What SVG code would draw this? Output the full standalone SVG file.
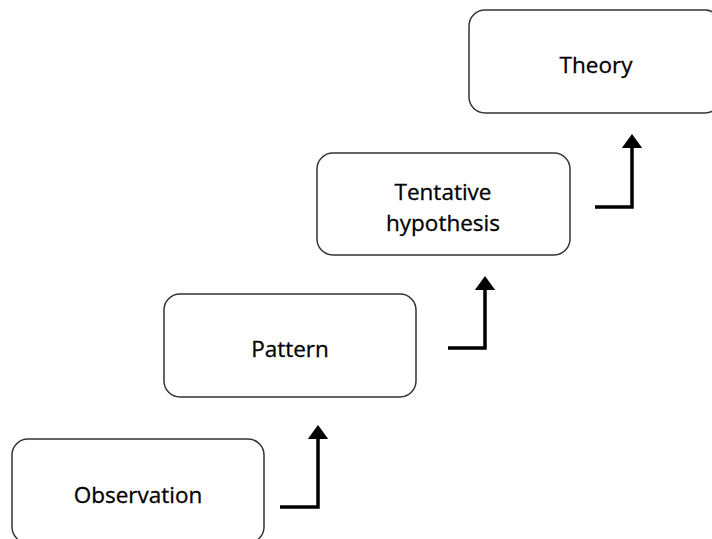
<svg xmlns="http://www.w3.org/2000/svg" width="712" height="539" viewBox="0 0 712 539">
<style>
.box{fill:#fff;stroke:#333;stroke-width:1.5}
.lbl{font-family:"Open Sans","Noto Sans",sans-serif;font-size:22.5px;fill:#000;stroke:#000;stroke-width:0.3;text-anchor:middle}
.con{fill:none;stroke:#000;stroke-width:3.5}
</style>
<defs>
<marker id="ah" markerWidth="4" markerHeight="5.8" refX="0.3" refY="2.9" orient="auto" markerUnits="strokeWidth">
<path d="M0,0 L4,2.9 L0,5.8 Z" fill="#000"/>
</marker>
</defs>
<rect width="712" height="539" fill="#fff"/>
<g id="observation"><rect class="box" x="12" y="439" width="252" height="104" rx="16"/><text class="lbl" x="138" y="503">Observation</text></g>
<g id="pattern"><rect class="box" x="164" y="294" width="252" height="103" rx="16"/><text class="lbl" x="290" y="357">Pattern</text></g>
<g id="tentative"><rect class="box" x="317" y="153" width="253" height="102" rx="16"/><text class="lbl" x="443" y="200">Tentative</text><text class="lbl" x="443" y="231">hypothesis</text></g>
<g id="theory"><rect class="box" x="469" y="10" width="252" height="103" rx="16"/><text class="lbl" x="596" y="73">Theory</text></g>
<g id="connectors">
<path class="con" d="M280,507 H318 V438" marker-end="url(#ah)"/>
<path class="con" d="M448,348 H485 V289" marker-end="url(#ah)"/>
<path class="con" d="M595,207 H632 V147" marker-end="url(#ah)"/>
</g>
</svg>
